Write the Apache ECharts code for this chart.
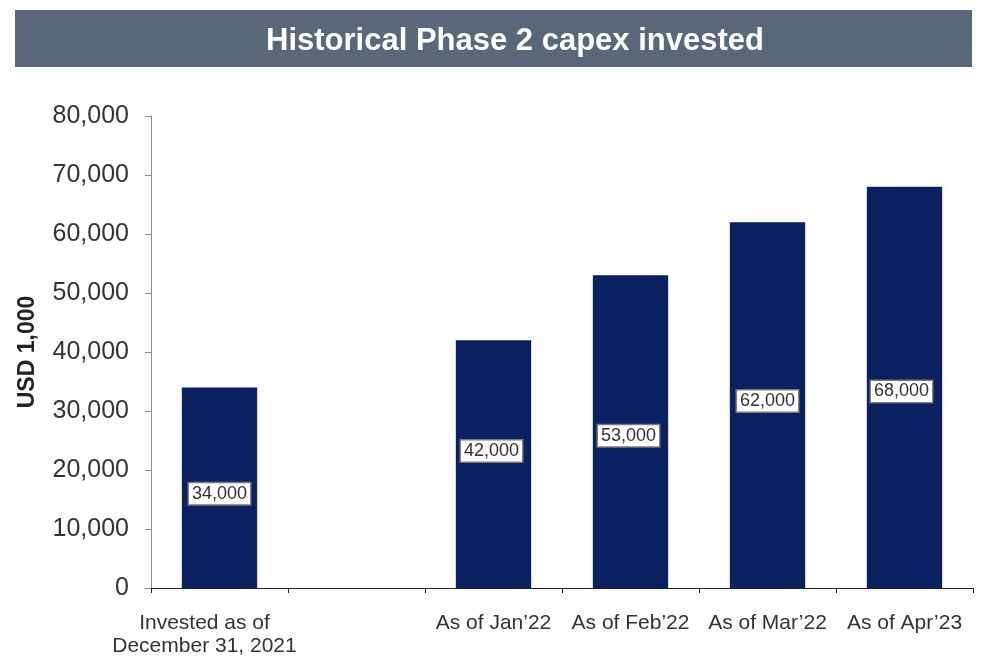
<!DOCTYPE html>
<html>
<head>
<meta charset="utf-8">
<script src="https://cdn.jsdelivr.net/npm/echarts@6/dist/echarts.min.js"></script>
<style>
  html, body { margin: 0; padding: 0; background: #fff; }
  #chart { width: 987px; height: 659px; }
</style>
</head>
<body>
<div id="chart"></div>
<script>
// categories (second slot is an empty gap in the original)
const categories = [
  "Invested as of\nDecember 31, 2021",
  "",
  "As of Jan\u201922",
  "As of Feb\u201922",
  "As of Mar\u201922",
  "As of Apr\u201923",
];
const capexInvested = [34000, null, 42000, 53000, 62000, 68000];
const yTicks = [0, 10000, 20000, 30000, 40000, 50000, 60000, 70000, 80000];

// small nudges so the callouts sit where they do in the source
const labelOffsets = [[0, 6], [0, 0], [-2, -13], [-2, 4], [0, -4], [-3, 4]];

const fmt = (v) => v.toLocaleString("en-US");

const chart = echarts.init(document.getElementById("chart"));

const option = {
  animation: false,
  textStyle: { fontFamily: "Liberation Sans, Arial, sans-serif" },
  graphic: [
    {
      type: "rect",
      left: 15,
      top: 10,
      shape: { width: 957, height: 57 },
      style: { fill: "#586779" },
      z: 0,
    },
  ],
  title: {
    text: "Historical Phase 2 capex invested",
    left: 510,
    top: 21,
    textAlign: "center",
    textStyle: {
      color: "#fff",
      fontSize: 31,
      fontWeight: "bold",
      fontFamily: "Liberation Sans, Arial, sans-serif",
    },
    z: 5,
  },
  grid: { left: 151, right: 14, top: 116, bottom: 71 },
  xAxis: {
    type: "category",
    data: categories,
    axisLine: { lineStyle: { color: "#222", width: 1 } },
    axisTick: { show: true, length: 5, lineStyle: { color: "#222" } },
    axisLabel: {
      color: "#333",
      fontSize: 21,
      lineHeight: 23,
      margin: 24,
      interval: 0,
      // first label sits a little left of its slot in the source
      formatter: (v, i) =>
        i === 0 ? v.split("\n").map((s) => `{first|${s}}`).join("\n") : v,
      rich: {
        first: {
          color: "#333",
          fontSize: 21,
          lineHeight: 23,
          padding: [0, 30, 0, 0],
        },
      },
    },
  },
  yAxis: {
    type: "value",
    min: yTicks[0],
    max: yTicks[yTicks.length - 1],
    interval: yTicks[1] - yTicks[0],
    name: "USD 1,000",
    nameLocation: "middle",
    nameGap: 112,
    nameTextStyle: { color: "#222", fontSize: 23, fontWeight: "bold" },
    axisLine: { show: true, lineStyle: { color: "#8a8a8a" } },
    axisTick: { show: true, length: 6, lineStyle: { color: "#8a8a8a" } },
    splitLine: { show: false },
    axisLabel: {
      color: "#333",
      fontSize: 25,
      margin: 22,
      formatter: (v) => fmt(v),
    },
  },
  series: [
    {
      type: "bar",
      barWidth: "55%",
      itemStyle: { color: "#0a2060" },
      data: capexInvested.map((v, i) => ({
        value: v === null ? "-" : v,
        label: { offset: labelOffsets[i] },
      })),
      label: {
        show: true,
        position: "inside",
        formatter: (p) => fmt(p.value),
        color: "#333",
        fontSize: 18,
        backgroundColor: "#fff",
        borderColor: "#7a7a7a",
        borderWidth: 1.5,
        padding: [2, 3, 1, 3],
      },
    },
  ],
};

chart.setOption(option);
</script>
</body>
</html>
